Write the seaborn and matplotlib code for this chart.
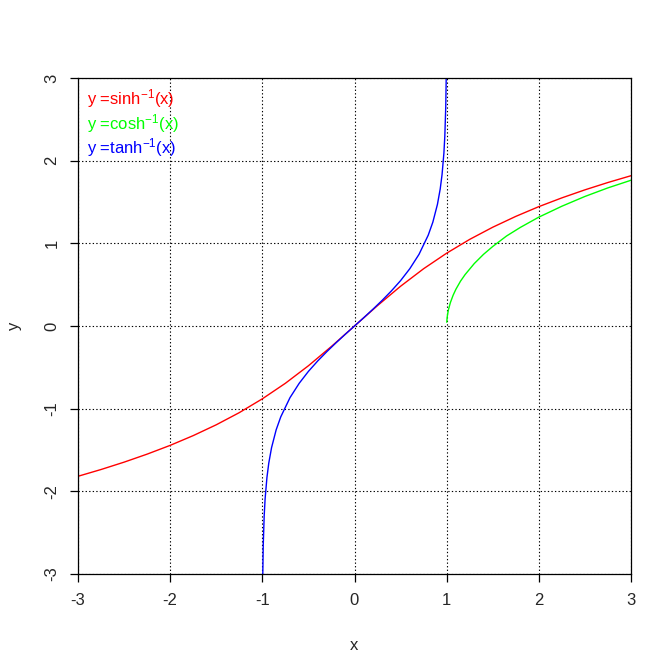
import matplotlib
matplotlib.use("Agg")
import matplotlib.pyplot as plt
import numpy as np
import pandas as pd
import seaborn as sns

# valores
asinh_x = [-3.0, -2.75, -2.5, -2.25, -2.0, -1.75, -1.5, -1.25, -1.0, -0.75, -0.5, -0.25,
           0.0, 0.25, 0.5, 0.75, 1.0, 1.25, 1.5, 1.75, 2.0, 2.25, 2.5, 2.75, 3.0]
asinh_y = [-1.818, -1.736, -1.647, -1.550, -1.444, -1.326, -1.195, -1.048, -0.881, -0.693, -0.481, -0.247,
           0.0, 0.247, 0.481, 0.693, 0.881, 1.048, 1.195, 1.326, 1.444, 1.550, 1.647, 1.736, 1.818]

acosh_x = [1.001, 1.005, 1.01, 1.02, 1.04, 1.07, 1.1, 1.15, 1.2, 1.3, 1.4, 1.5,
           1.65, 1.8, 2.0, 2.25, 2.5, 2.75, 3.0]
acosh_y = [0.045, 0.100, 0.141, 0.200, 0.282, 0.372, 0.444, 0.542, 0.622, 0.756, 0.867, 0.962,
           1.089, 1.193, 1.317, 1.449, 1.567, 1.671, 1.763]

atanh_x = [-0.9999, -0.995, -0.99, -0.98, -0.97, -0.95, -0.93, -0.9, -0.85, -0.8, -0.7, -0.6,
           -0.5, -0.4, -0.3, -0.2, -0.1, 0.0, 0.1, 0.2, 0.3, 0.4, 0.5, 0.6, 0.7, 0.8,
           0.85, 0.9, 0.93, 0.95, 0.97, 0.98, 0.99, 0.995, 0.9999]
atanh_y = [-4.952, -2.995, -2.647, -2.298, -2.092, -1.832, -1.658, -1.472, -1.256, -1.099, -0.867, -0.693,
           -0.549, -0.424, -0.310, -0.203, -0.100, 0.0, 0.100, 0.203, 0.310, 0.424, 0.549, 0.693, 0.867, 1.099,
           1.256, 1.472, 1.658, 1.832, 2.092, 2.298, 2.647, 2.995, 4.952]

labels = ["y =sinh$^{-1}$(x)", "y =cosh$^{-1}$(x)", "y =tanh$^{-1}$(x)"]
colors = ["#ff0000", "#00ff00", "#0000ff"]
ticks = [-3, -2, -1, 0, 1, 2, 3]

df = pd.concat([
    pd.DataFrame({"x": asinh_x, "y": asinh_y, "curva": labels[0]}),
    pd.DataFrame({"x": acosh_x, "y": acosh_y, "curva": labels[1]}),
    pd.DataFrame({"x": atanh_x, "y": atanh_y, "curva": labels[2]}),
])

sns.set_style("white")
plt.rcParams["font.family"] = ["Liberation Sans", "DejaVu Sans"]
plt.rcParams["mathtext.default"] = "regular"

fig = plt.figure(figsize=(6.72, 6.72), dpi=100)
ax = fig.add_axes([78 / 672, 1 - 574 / 672, (631 - 78) / 672, (574 - 78) / 672])

for lab, col in zip(labels, colors):
    sub = df[df["curva"] == lab]
    sns.lineplot(data=sub, x="x", y="y", sort=False, estimator=None,
                 color=col, lw=1.0, ax=ax, legend=False)

ax.set_xlim(-3, 3)
ax.set_ylim(-3, 3)
ax.set_xticks(ticks)
ax.set_yticks(ticks)
ax.set_xticklabels([str(t) for t in ticks])
ax.set_yticklabels([str(t) for t in ticks], rotation=90, va="center")
ax.grid(True, color="black", linestyle=(0, (1.2, 2.0)), linewidth=0.8)
ax.set_axisbelow(True)
for sp in ax.spines.values():
    sp.set_color("black")
    sp.set_linewidth(0.9)
ax.tick_params(axis="both", direction="out", length=5.5, width=0.9, color="black",
               labelsize=12, pad=8, bottom=True, left=True)
ax.set_xlabel("x", fontsize=12, labelpad=22)
ax.set_ylabel("y", fontsize=12, labelpad=16)

for i, (lab, col) in enumerate(zip(labels, colors)):
    ax.text(0.016, 0.958 - i * 0.049, lab, color=col, fontsize=12,
            transform=ax.transAxes, va="center", ha="left")

fig.savefig("out.png", dpi=100)
